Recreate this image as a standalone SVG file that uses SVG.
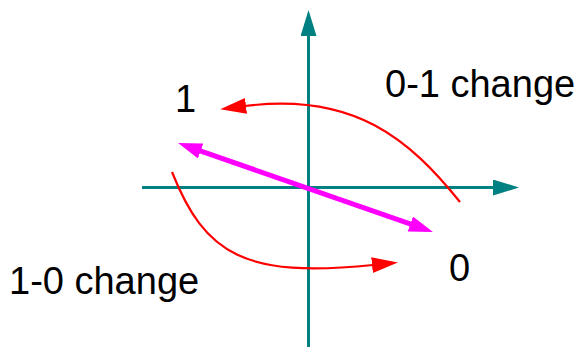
<svg xmlns="http://www.w3.org/2000/svg" width="579" height="353" viewBox="0 0 579 353">
<style>
.axis{stroke:#008080;stroke-width:3;fill:none}
.red{stroke:#ff0000;stroke-width:2.2;fill:none}
.mag{stroke:#ff00ff;stroke-width:5;fill:none}
.lbl{font-family:"Liberation Sans",Arial,sans-serif;fill:#000;font-size:38px}
</style>
<defs>
<marker id="ah-axis" markerUnits="userSpaceOnUse" markerWidth="28" markerHeight="18" refX="2" refY="8" orient="auto"><path d="M0,0 L26,8 L0,16 z" fill="#008080"/></marker>
<marker id="ah-red" markerUnits="userSpaceOnUse" markerWidth="28" markerHeight="18" refX="1" refY="8" orient="auto"><path d="M0,0 L26,8 L0,16 z" fill="#ff0000"/></marker>
<marker id="ah-mag" markerUnits="userSpaceOnUse" markerWidth="26" markerHeight="18" refX="2" refY="8" orient="auto-start-reverse"><path d="M0,0 L24,8 L0,16 z" fill="#ff00ff"/></marker>
</defs>
<g id="connectors">
<line id="x-axis" class="axis" x1="142" y1="187.5" x2="495" y2="187.5" marker-end="url(#ah-axis)"/>
<line id="y-axis" class="axis" x1="308.5" y1="347" x2="308.5" y2="34" marker-end="url(#ah-axis)"/>
<path id="change-01" class="red" d="M460,202 C410,140 355,92 245,106" marker-end="url(#ah-red)"/>
<path id="change-10" class="red" d="M172,172 C205,255 245,278 373,265" marker-end="url(#ah-red)"/>
<line id="diag" class="mag" x1="198.8" y1="150.3" x2="412.2" y2="224.7" marker-start="url(#ah-mag)" marker-end="url(#ah-mag)"/>
</g>
<g id="label-1"><text class="lbl" x="175" y="112">1</text></g>
<g id="label-0"><text class="lbl" x="449" y="280.5">0</text></g>
<g id="label-01"><text class="lbl" x="385" y="96.5">0-1 change</text></g>
<g id="label-10"><text class="lbl" x="9" y="294">1-0 change</text></g>
</svg>
